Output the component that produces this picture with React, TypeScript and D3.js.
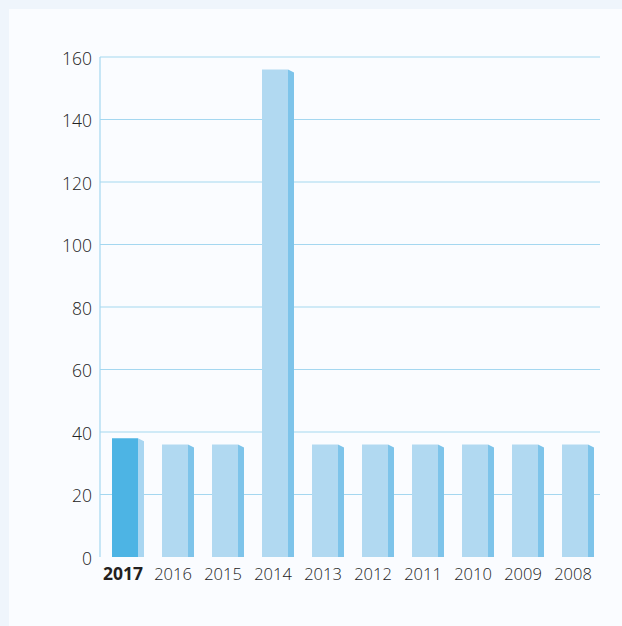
import React from "react";
import * as d3 from "d3";

const years = ["2017", "2016", "2015", "2014", "2013", "2012", "2011", "2010", "2009", "2008"];
const values = [38, 36, 36, 156, 36, 36, 36, 36, 36, 36];
const yTicks = [0, 20, 40, 60, 80, 100, 120, 140, 160];

const W = 622;
const H = 626;
const M = { left: 100, right: 22, top: 57, bottom: 69 };

export default function App() {
  const x = d3.scaleBand<string>().domain(years).range([M.left, W - M.right]).paddingInner(0).paddingOuter(0);
  const y = d3.scaleLinear().domain([0, 160]).range([H - M.bottom, M.top]);
  const step = x.step();
  const frontW = 26;
  const sideW = 6;
  const offset = 12;
  const font = "'Open Sans', 'Noto Sans', sans-serif";

  return (
    <svg width={W} height={H} style={{ position: "fixed", left: 0, top: 0 }}>
      <rect x={0} y={0} width={W} height={H} fill="#eff5fc" />
      <rect x={9} y={9} width={W - 9} height={H - 9} fill="#fafcff" />
      {yTicks.map((t) => (
        <g key={t}>
          {t > 0 && (
            <line x1={M.left} x2={W - M.right} y1={y(t)} y2={y(t)} stroke="#a4d7f0" strokeWidth={1.2} />
          )}
          <text
            x={M.left - 8}
            y={y(t) + 1.5}
            dy="0.35em"
            textAnchor="end"
            fontFamily={font}
            fontSize={17.5}
            fontWeight={300}
            fill="#222222"
          >
            {t}
          </text>
        </g>
      ))}
      <line x1={M.left} x2={M.left} y1={M.top} y2={y(0)} stroke="#a4d7f0" strokeWidth={1.2} />
      {years.map((yr, i) => {
        const x0 = (x(yr) as number) + offset;
        const top = y(values[i]);
        const bottom = y(0);
        const highlight = i === 0;
        return (
          <g key={yr}>
            <rect x={x0} y={top} width={frontW} height={bottom - top} fill={highlight ? "#4db4e4" : "#b1d9f1"} />
            <polygon
              points={`${x0 + frontW},${top} ${x0 + frontW + sideW},${top + 3} ${x0 + frontW + sideW},${bottom} ${x0 + frontW},${bottom}`}
              fill={highlight ? "#a9d6f1" : "#7ec4ea"}
            />
            <text
              x={(x(yr) as number) + step / 2 - 2}
              y={bottom + 23}
              textAnchor="middle"
              fontFamily={font}
              fontSize={highlight ? 17.5 : 16.5}
              fontWeight={highlight ? 700 : 300}
              fill={highlight ? "#231f20" : "#222222"}
            >
              {yr}
            </text>
          </g>
        );
      })}
    </svg>
  );
}
